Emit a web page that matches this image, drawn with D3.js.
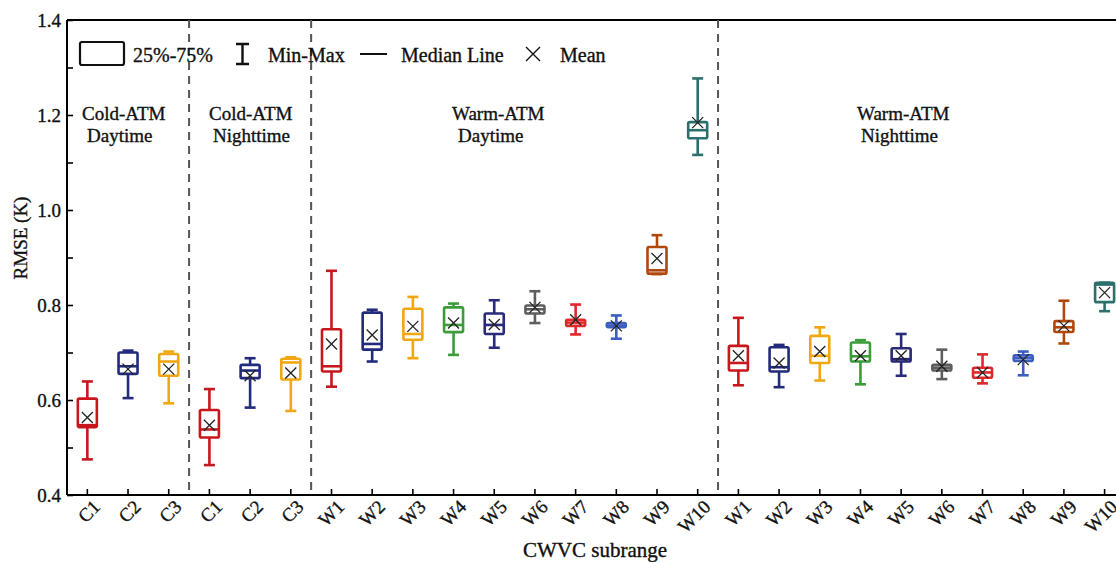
<!DOCTYPE html>
<html>
<head>
<meta charset="utf-8">
<script src="https://cdn.jsdelivr.net/npm/d3@7"></script>
<style>
  html, body { margin: 0; padding: 0; background: #fff; }
  svg { display: block; font-family: "Liberation Serif", "DejaVu Serif", serif; }
  svg text { stroke: #111; stroke-width: 0.35px; }
</style>
</head>
<body>
<svg id="chart" width="1116" height="562"></svg>
<script>
// ---- Data ----
const categories = ["C1","C2","C3","C1","C2","C3",
  "W1","W2","W3","W4","W5","W6","W7","W8","W9","W10",
  "W1","W2","W3","W4","W5","W6","W7","W8","W9","W10"];
const groups = ["Cold-ATM Daytime","Cold-ATM Daytime","Cold-ATM Daytime",
  "Cold-ATM Nighttime","Cold-ATM Nighttime","Cold-ATM Nighttime",
  "Warm-ATM Daytime","Warm-ATM Daytime","Warm-ATM Daytime","Warm-ATM Daytime","Warm-ATM Daytime",
  "Warm-ATM Daytime","Warm-ATM Daytime","Warm-ATM Daytime","Warm-ATM Daytime","Warm-ATM Daytime",
  "Warm-ATM Nighttime","Warm-ATM Nighttime","Warm-ATM Nighttime","Warm-ATM Nighttime","Warm-ATM Nighttime",
  "Warm-ATM Nighttime","Warm-ATM Nighttime","Warm-ATM Nighttime","Warm-ATM Nighttime","Warm-ATM Nighttime"];
const minVals = [0.475,0.604,0.593, 0.463,0.584,0.577,
  0.628,0.681,0.688,0.695,0.710,0.762,0.738,0.729,0.865,1.116,
  0.631,0.627,0.641,0.633,0.651,0.644,0.635,0.652,0.719,0.787];
const q1Vals = [0.543,0.655,0.651, 0.521,0.646,0.643,
  0.660,0.706,0.727,0.743,0.739,0.782,0.756,0.753,0.866,1.151,
  0.662,0.660,0.678,0.681,0.681,0.662,0.647,0.682,0.743,0.806];
const medianVals = [0.547,0.671,0.681, 0.538,0.662,0.679,
  0.671,0.718,0.739,0.758,0.758,0.791,0.763,0.757,0.873,1.168,
  0.678,0.669,0.693,0.692,0.686,0.668,0.658,0.688,0.753,0.843];
const q3Vals = [0.603,0.700,0.697, 0.579,0.674,0.687,
  0.749,0.784,0.792,0.795,0.782,0.799,0.769,0.762,0.922,1.185,
  0.714,0.711,0.735,0.721,0.709,0.674,0.668,0.694,0.766,0.847];
const maxVals = [0.639,0.704,0.702, 0.623,0.688,0.690,
  0.872,0.790,0.817,0.803,0.810,0.829,0.801,0.778,0.947,1.277,
  0.773,0.716,0.753,0.726,0.739,0.706,0.696,0.702,0.809,0.847];
const meanVals = [0.563,0.665,0.665, 0.547,0.651,0.657,
  0.718,0.737,0.755,0.762,0.759,0.795,0.769,0.756,0.898,1.184,
  0.693,0.678,0.702,0.693,0.693,0.671,0.658,0.685,0.756,0.826];
const yTicks = [0.4,0.5,0.6,0.7,0.8,0.9,1.0,1.1,1.2,1.3,1.4];
const yTickLabels = ["0.4","","0.6","","0.8","","1.0","","1.2","","1.4"];
const groupLabels = [["Cold-ATM","Daytime"],["Cold-ATM","Nighttime"],["Warm-ATM","Daytime"],["Warm-ATM","Nighttime"]];
const groupNames = ["Cold-ATM Daytime","Cold-ATM Nighttime","Warm-ATM Daytime","Warm-ATM Nighttime"];

// ---- Styles ----
const palette = {
  red:"#c8161d", navy:"#222a7c", yellow:"#f0a712", green:"#3c9c3a", purple:"#2a2a78",
  gray:"#5e5e5e", red2:"#e0282c", blue:"#3d5ec0", brown:"#b0480c", teal:"#2c706c"
};
const colorKeys = ["red","navy","yellow","red","navy","yellow",
  "red","navy","yellow","green","purple","gray","red2","blue","brown","teal",
  "red","navy","yellow","green","purple","gray","red2","blue","brown","teal"];

const svg = d3.select("#chart");
const mLeft = 67, mTop = 20, mBottom = 495, step = 40.69;
const idx = d3.range(categories.length);
const x = d3.scaleBand().domain(idx).range([mLeft, mLeft + step * idx.length]).paddingInner(0).paddingOuter(0);
const y = d3.scaleLinear().domain([0.4, 1.4]).range([mBottom, mTop]);
const cx = i => x(i) + x.bandwidth() / 2;
const xEnd = mLeft + step * idx.length + 5;

// top frame line (right side extends beyond canvas)
svg.append("path")
  .attr("d", `M${mLeft},${mTop}H${xEnd}`)
  .attr("stroke", "#000").attr("stroke-width", 2).attr("fill", "none");

// group dividers
const boundaries = [];
for (let i = 1; i < groups.length; i++) if (groups[i] !== groups[i-1]) boundaries.push(i);
svg.selectAll(".div").data(boundaries).enter().append("line")
  .attr("x1", d => x(d)).attr("x2", d => x(d))
  .attr("y1", mTop).attr("y2", mBottom)
  .attr("stroke", "#555").attr("stroke-width", 2).attr("stroke-dasharray", "8,6");

// y axis
const yAxis = d3.axisLeft(y).tickValues(yTicks).tickSize(-6)
  .tickFormat((d, i) => yTickLabels[i]);
const gy = svg.append("g").attr("transform", `translate(${mLeft},0)`).call(yAxis);
gy.select(".domain").attr("stroke-width", 2).attr("d", `M0,${mTop}V${mBottom}`);
gy.selectAll(".tick line").attr("stroke-width", 1.6);
gy.selectAll(".tick text").attr("x", -6).attr("font-size", 19).attr("fill", "#111")
  .style("font-family", "Liberation Serif");

// x axis
const xAxis = d3.axisBottom(x).tickSize(-6).tickFormat(i => categories[i]);
const gx = svg.append("g").attr("transform", `translate(0,${mBottom})`).call(xAxis);
gx.select(".domain").attr("stroke-width", 2).attr("d", `M${mLeft},0H${xEnd}`);
gx.selectAll(".tick line").attr("stroke-width", 1.6);
gx.selectAll(".tick text")
  .attr("font-size", 19).attr("fill", "#111").style("font-family", "Liberation Serif")
  .attr("text-anchor", "end").attr("dy", 0).attr("y", 0)
  .attr("transform", "translate(14,13) rotate(-45)");

// axis titles
svg.append("text").attr("x", 595).attr("y", 557).attr("text-anchor", "middle")
  .attr("font-size", 21).attr("fill", "#111").text("CWVC subrange");
svg.append("text").attr("transform", "translate(27,238) rotate(-90)").attr("text-anchor", "middle")
  .attr("font-size", 19).attr("fill", "#111").text("RMSE (K)");

// group labels
const labelX = [82, 209, 452, 857];
const indent = [5, 4, 6, 4];
groupLabels.forEach((lines, gi) => {
  const t = svg.append("text").attr("font-size", 19).attr("fill", "#111");
  t.append("tspan").attr("x", labelX[gi]).attr("y", 120).text(lines[0]);
  t.append("tspan").attr("x", labelX[gi] + indent[gi]).attr("y", 142).text(lines[1]);
});

// boxes
const boxW = 19, capW = 11, sw = 2.6;
const g = svg.selectAll(".box").data(idx).enter().append("g")
  .attr("stroke", i => palette[colorKeys[i]]).attr("fill", "none").attr("stroke-width", sw);
g.append("line").attr("x1", cx).attr("x2", cx).attr("y1", i => y(maxVals[i])).attr("y2", i => y(q3Vals[i]));
g.append("line").attr("x1", cx).attr("x2", cx).attr("y1", i => y(q1Vals[i])).attr("y2", i => y(minVals[i]));
g.append("line").attr("x1", i => cx(i) - capW/2).attr("x2", i => cx(i) + capW/2)
  .attr("y1", i => y(maxVals[i])).attr("y2", i => y(maxVals[i]));
g.append("line").attr("x1", i => cx(i) - capW/2).attr("x2", i => cx(i) + capW/2)
  .attr("y1", i => y(minVals[i])).attr("y2", i => y(minVals[i]));
g.append("rect").attr("x", i => cx(i) - boxW/2).attr("width", boxW)
  .attr("y", i => y(q3Vals[i])).attr("height", i => Math.max(0.5, y(q1Vals[i]) - y(q3Vals[i])))
  .attr("rx", 1.5).attr("fill", "#fff");
g.append("line").attr("x1", i => cx(i) - boxW/2).attr("x2", i => cx(i) + boxW/2)
  .attr("y1", i => y(medianVals[i])).attr("y2", i => y(medianVals[i]));
const ms = 5.5;
g.append("path").attr("stroke", "#222").attr("stroke-width", 1.3)
  .attr("d", i => { const X = cx(i), Y = y(meanVals[i]);
    return `M${X-ms},${Y-ms}L${X+ms},${Y+ms}M${X-ms},${Y+ms}L${X+ms},${Y-ms}`; });

// legend
const lg = svg.append("g").attr("font-size", 20).attr("fill", "#111");
lg.append("rect").attr("x", 80).attr("y", 42).attr("width", 44).attr("height", 23).attr("rx", 2)
  .attr("fill", "none").attr("stroke", "#111").attr("stroke-width", 2.2);
lg.append("text").attr("x", 133).attr("y", 62).text("25%-75%");
lg.append("path").attr("d", "M236,44H249M242.5,44V64M236,64H249").attr("stroke", "#111")
  .attr("stroke-width", 2.4).attr("fill", "none");
lg.append("text").attr("x", 268).attr("y", 62).text("Min-Max");
lg.append("line").attr("x1", 360).attr("x2", 387).attr("y1", 54).attr("y2", 54)
  .attr("stroke", "#111").attr("stroke-width", 2);
lg.append("text").attr("x", 401).attr("y", 62).text("Median Line");
lg.append("path").attr("d", "M526,47L540,61M526,61L540,47").attr("stroke", "#111").attr("stroke-width", 1.4);
lg.append("text").attr("x", 560).attr("y", 62).text("Mean");
</script>
</body>
</html>
